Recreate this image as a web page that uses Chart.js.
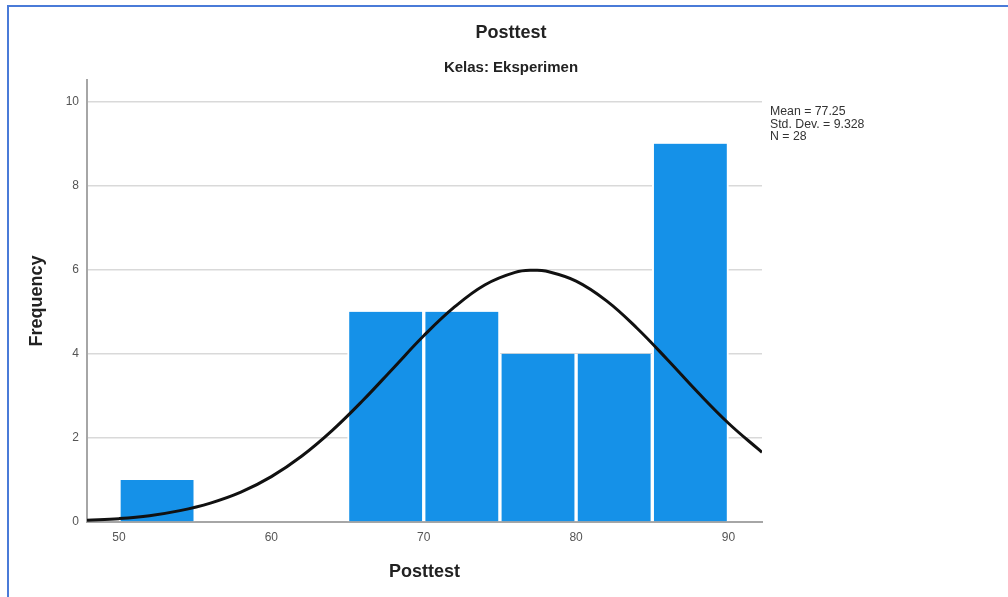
<!DOCTYPE html>
<html>
<head>
<meta charset="utf-8">
<title>Posttest - Kelas: Eksperimen</title>
<script src="https://cdn.jsdelivr.net/npm/chart.js@4.4.1/dist/chart.umd.min.js"></script>
<style>
    html, body { margin: 0; padding: 0; background: #fff; }
    #wrap { position: relative; width: 1008px; height: 597px; overflow: hidden; }
    #frame {
        position: absolute; left: 7px; top: 5px; right: -10px; bottom: -10px;
        border-top: 2px solid #4a7bd8; border-left: 2px solid #4a7bd8;
        pointer-events: none;
    }
    #stats {
        position: absolute; left: 770px; top: 105px;
        font: 12.3px "Liberation Sans", Arial, sans-serif; line-height: 12.7px;
        color: #333; white-space: nowrap;
    }
</style>
</head>
<body>
<div id="wrap">
    <canvas id="histChart" width="1008" height="597"></canvas>
    <div id="frame"></div>
    <div id="stats"></div>
</div>
<script>
// histogram bins (width 5), centre of each bin and its count
const binCenters = [52.5, 67.5, 72.5, 77.5, 82.5, 87.5];
const binCounts = [1, 5, 5, 4, 4, 9];

// fitted normal curve
const curveX = [47.9, 50, 52, 54, 56, 58, 60, 62, 64, 66, 68, 70, 72, 74, 76, 77.25, 78, 80, 82, 84, 86, 88, 90, 92, 92.2];
const curveY = [0.04, 0.08, 0.15, 0.27, 0.45, 0.71, 1.08, 1.57, 2.18, 2.89, 3.66, 4.43, 5.11, 5.64, 5.94, 5.99, 5.97, 5.73, 5.26, 4.61, 3.86, 3.08, 2.35, 1.72, 1.66];

const xTicks = [50, 60, 70, 80, 90];
const yTicks = [0, 2, 4, 6, 8, 10];

const statLines = ['Mean = 77.25', 'Std. Dev. = 9.328', 'N = 28'];

document.addEventListener("DOMContentLoaded", function () {
    Chart.defaults.font.family = '"Liberation Sans", Arial, sans-serif';
    Chart.defaults.color = '#444';

    document.getElementById('stats').innerHTML = statLines.join('<br>');

    const ctx = document.getElementById('histChart').getContext('2d');
    new Chart(ctx, {
        type: 'bar',
        data: {
            datasets: [{
                type: 'line',
                label: 'Normal',
                data: curveX.map((x, i) => ({ x: x, y: curveY[i] })),
                borderColor: '#111',
                borderWidth: 3,
                pointRadius: 0,
                tension: 0.4,
                fill: false,
                order: 0
            }, {
                type: 'bar',
                label: 'Frequency',
                data: binCenters.map((x, i) => ({ x: x, y: binCounts[i] })),
                backgroundColor: '#1591e8',
                borderColor: '#ffffff',
                borderWidth: { left: 2, right: 2, top: 0, bottom: 0 },
                barPercentage: 1,
                categoryPercentage: 1,
                order: 1
            }]
        },
        options: {
            responsive: false,
            animation: false,
            layout: { padding: { left: 14, right: 0, top: 0, bottom: 0 } },
            plugins: {
                legend: { display: false },
                tooltip: { enabled: false },
                title: {
                    display: true,
                    text: 'Posttest',
                    color: '#222',
                    font: { size: 18, weight: 'bold' },
                    padding: { top: 22, bottom: 8 }
                },
                subtitle: {
                    display: true,
                    text: 'Kelas: Eksperimen',
                    color: '#222',
                    font: { size: 15, weight: 'bold' },
                    padding: { top: 7.2, bottom: 3 }
                }
            },
            scales: {
                x: {
                    type: 'linear',
                    min: 47.9,
                    max: 92.2,
                    offset: false,
                    afterBuildTicks: axis => { axis.ticks = xTicks.map(v => ({ value: v })); },
                    afterFit: axis => { axis.height = 75; },
                    grid: { display: false, drawTicks: false },
                    border: { display: true, color: '#a6a6a6', width: 2 },
                    ticks: { padding: 8, font: { size: 12 }, color: '#555' },
                    title: {
                        display: true,
                        text: 'Posttest',
                        color: '#222',
                        font: { size: 18, weight: 'bold' },
                        padding: { top: 0, bottom: 14.2 }
                    }
                },
                y: {
                    type: 'linear',
                    position: 'left',
                    min: 0,
                    max: 10.52,
                    afterBuildTicks: axis => { axis.ticks = yTicks.map(v => ({ value: v })); },
                    afterFit: axis => { axis.width = 73; },
                    grid: { color: '#d9d9d9', lineWidth: 1.5, drawTicks: false },
                    border: { display: true, color: '#a6a6a6', width: 2 },
                    ticks: { padding: 8, font: { size: 12 }, color: '#555' },
                    title: {
                        display: true,
                        text: 'Frequency',
                        color: '#222',
                        font: { size: 18, weight: 'bold' },
                        padding: { top: 12.7, bottom: 0 }
                    }
                },
                // empty space on the right where the stats sit
                gap: {
                    type: 'linear',
                    position: 'right',
                    display: true,
                    grid: { display: false, drawTicks: false },
                    border: { display: false },
                    ticks: { display: false },
                    afterFit: axis => { axis.width = 246; }
                }
            }
        }
    });
});
</script>
</body>
</html>
